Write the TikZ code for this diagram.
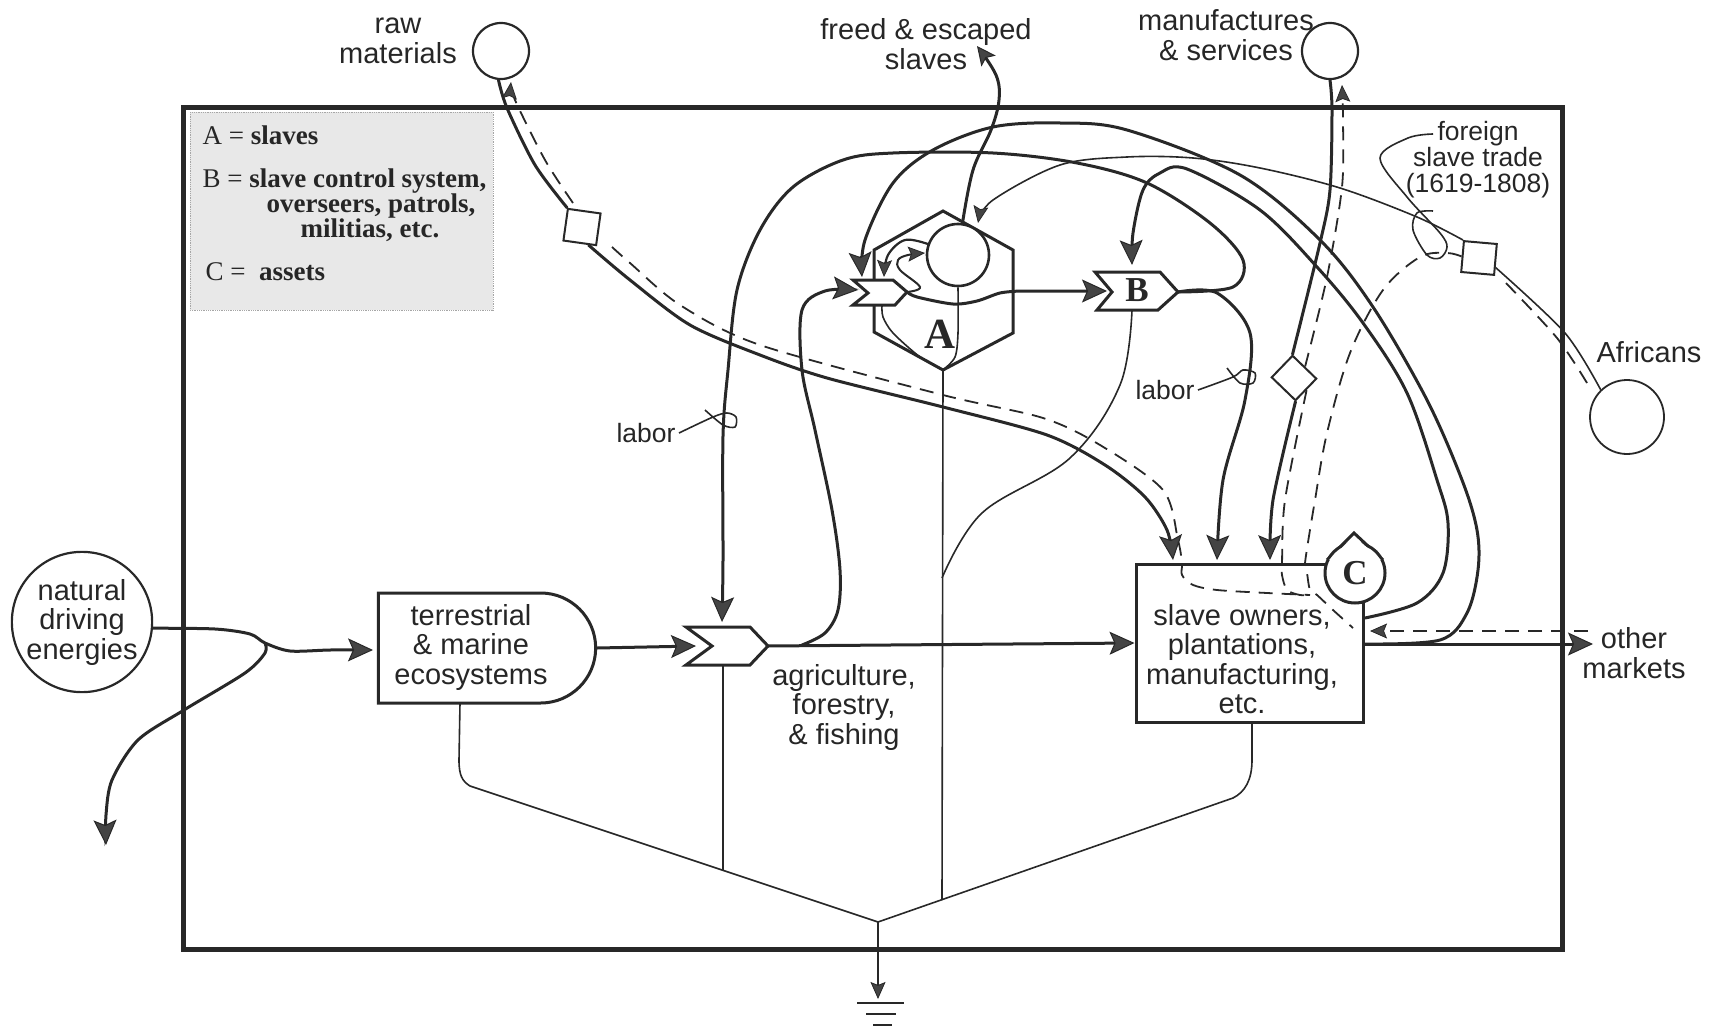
\documentclass[tikz,border=0pt]{standalone}
\usepackage{fontspec}
\setmainfont{Liberation Sans}
\newfontfamily\legendfont{Liberation Serif}
\definecolor{inkline}{RGB}{40, 40, 40}
\definecolor{tipgray}{RGB}{68, 68, 68}
\definecolor{legendgray}{RGB}{232, 232, 232}
\usetikzlibrary{shapes.misc, arrows.meta}
\begin{document}
\begin{tikzpicture}[
        x=1pt, y=-1pt,
        color=inkline,
        tag/.style={align=center, text=black!85, font=\fontsize{29}{29.5}\selectfont},
        small/.style={align=center, text=black!85, font=\fontsize{26.5}{26}\selectfont},
        legend/.style={anchor=base west, text=black!85, font=\legendfont\fontsize{27}{27}\selectfont},
        letter/.style={font=\legendfont\bfseries\fontsize{35}{35}\selectfont},
        pool/.style={circle, draw, line width=2.2pt, inner sep=0pt},
        gate/.style={rectangle, draw, fill=white, line width=2pt, inner sep=0pt},
        box/.style={draw, fill=white, line width=3pt, line join=miter},
        flow/.style={line width=3pt, line cap=round},
        thin line/.style={line width=1.6pt},
        dash line/.style={line width=1.8pt, dash pattern=on 14pt off 9pt},
        big tip/.style={-{Stealth[length=25pt, width=23pt, inset=5pt, line width=1pt, fill=tipgray]}},
        small tip/.style={-{Stealth[length=17pt, width=15pt, inset=3pt, line width=0.8pt, fill=tipgray]}}
    ]
        \useasboundingbox (0,0) rectangle (1711,1030);

        % Legend and system frame
        \fill[legendgray] (190,112) rectangle (493,310);
        \draw[gray!70, line width=0.8pt, densely dotted] (190,112) rectangle (493,310);
        \draw[line width=5pt] (183,108) rectangle (1562,949);
        \node[legend] (lega) at (199,145) {A = \textbf{slaves}};
        \node[legend] (legb) at (199,187) {B = \textbf{slave control system,}};
        \node[legend, anchor=base] (legb2) at (371,212) {\textbf{overseers, patrols,}};
        \node[legend, anchor=base] (legb3) at (370,237) {\textbf{militias, etc.}};
        \node[legend] (legc) at (202,280) {C = \textbf{ assets}};

        % Outside sources and sinks
        \node[pool, minimum size=56pt] (raw) at (501,51) {};
        \node[pool, minimum size=56pt] (manuf) at (1330,51) {};
        \node[pool, minimum size=74pt, line width=1.8pt] (africans) at (1627,417) {};
        \node[pool, minimum size=136pt, tag] (natural) at (82,622) {natural\\driving\\energies};
        \node[tag] (rawtxt) at (398,41) {raw\\materials};
        \node[tag] (freedtxt) at (926,44) {freed \& escaped\\slaves};
        \node[tag] (manuftxt) at (1226,35) {manufactures\\\& services};
        \node[tag] (africanstxt) at (1649,352) {Africans};
        \node[tag] (markets) at (1634,653) {other\\markets};
        \node[small] (tradetxt) at (1478,160) {foreign\\slave trade\\(1619-1808)};

        % Ecosystems and agriculture
        \node[rounded rectangle, rounded rectangle west arc=none, draw, line width=3pt, minimum width=224pt, minimum height=110pt] (terr) at (487,648) {};
        \node[tag] (terrtxt) at (471,647) {terrestrial\\\& marine\\ecosystems};
        \draw[box] (686,627) -- (750,627) -- (768,646) -- (750,665) -- (686,665) -- (712,646) -- cycle;
        \coordinate (agtip) at (768,646);
        \coordinate (agnotch) at (696,646);
        \coordinate (agtop) at (722,622);
        \coordinate (agbot) at (723,665);
        \coordinate (agfork) at (802,645);
        \node[tag] (agtxt) at (844,707) {agriculture,\\forestry,\\\& fishing};

        % Slaves hexagon with its pool and chevron
        \draw[box] (943,211) -- (1013,250) -- (1013,333) -- (943,370) -- (874,332) -- (874,250) -- cycle;
        \node[pool, minimum size=62pt, fill=white, line width=2.6pt] (slaves) at (958,255) {};
        \coordinate (hexbot) at (943,370);
        \draw[box] (853,280) -- (893,280) -- (907,292) -- (895,305) -- (853,305) -- (868,293) -- cycle;
        \coordinate (chtip) at (907,292);
        \coordinate (chbot) at (882,305);
        \coordinate (chnotch) at (858,290);
        \node[font=\legendfont\bfseries\fontsize{43}{43}\selectfont] (hexa) at (940,334) {A};

        % Control chevron
        \draw[box] (1095,272) -- (1160,272) -- (1178,292) -- (1158,310) -- (1097,310) -- (1112,292) -- cycle;
        \coordinate (btip) at (1178,292);
        \coordinate (bnotch) at (1107,291);
        \coordinate (bbot) at (1132,310);
        \node[letter] (btxt) at (1137,290) {B};

        % Owners with the assets tank
        \node[rectangle, draw, fill=white, line width=3pt, minimum width=227pt, minimum height=158pt] (owners) at (1249.5,643) {};
        \node[tag] (ownerstxt) at (1242,659) {slave owners,\\plantations,\\manufacturing,\\etc.};
        \fill[white] (1327,560) -- (1354,533) -- (1383,560) -- cycle;
        \draw[line width=3pt] (1327,560) -- (1354,533) -- (1383,560);
        \node[circle, draw, fill=white, line width=3pt, minimum size=60pt, inner sep=0pt, letter] (assets) at (1355,573) {C};
        \fill[white] (1329,560) -- (1354,536) -- (1381,560) -- cycle;
        \coordinate (ownright) at (1365,644);
        \coordinate (ownright2) at (1365,618);
        \coordinate (ownjoin) at (1310,595);
        \coordinate (ownbot) at (1252,722);

        % Price gates
        \node[gate, minimum width=33pt, minimum height=32pt, rotate=-8] (rawgate) at (582,227) {};
        \node[gate, minimum width=33pt, minimum height=31pt, rotate=-5] (tradegate) at (1479,258) {};
        \node[gate, minimum width=30pt, minimum height=33pt, rotate=46] (manufgate) at (1294,378) {};

        % Energy into the ecosystems
        \coordinate (natsplit) at (265,643);
        \coordinate (terrin) at (373,650);
        \coordinate (natout) at (106,845);
        \draw[flow, big tip] plot[smooth, tension=0.5] coordinates {(natural.-5) (215,629) (250,634) (natsplit) (290,651) (330,650) (terrin)};
        \draw[flow, big tip] plot[smooth, tension=0.5] coordinates {(natsplit) (265,653) (245,673) (184,710) (138,740) (112,780) (106,815) (natout)};
        \draw[flow, big tip] (terr.east) -- (agnotch);
        \draw[flow, big tip] (agtip) -- (owners.west);
        \draw[flow, big tip] plot[smooth, tension=0.55] coordinates {(agfork) (825,633) (838,610) (840,570) (832,510) (815,430) (802,370) (802,310) (825,291) (chnotch)};
        \draw[flow, big tip] plot[smooth, tension=0.5] coordinates {(chtip) (917,297) (953,304) (977,301) (1000,293) (1020,291)} -- (bnotch);

        % Labor and control loops
        \coordinate (bin) at (1132,265);
        \coordinate (chin) at (862,277);
        \coordinate (ownin) at (1217,560);
        \draw[flow, big tip] plot[smooth, tension=0.55] coordinates {(btip) (1233,287) (1243,260) (1210,223) (1147,183) (1077,163) (993,153) (893,153) (843,160) (793,187) (760,230) (737,290) (728,370) (723,436) (723,560) (agtop)};
        \draw[flow, big tip] plot[smooth, tension=0.55] coordinates {(ownright2) (1417,603) (1443,573) (1448,523) (1437,480) (1407,393) (1363,323) (1317,267) (1260,210) (1187,169) (1160,173) (1143,190) (1133,233) (bin)};
        \draw[flow, big tip] plot[smooth, tension=0.55] coordinates {(ownright) (1440,640) (1467,613) (1478,570) (1477,530) (1462,480) (1427,400) (1373,307) (1320,240) (1240,175) (1127,130) (1060,123) (993,127) (933,150) (893,183) (865,240) (chin)};
        \draw[flow, big tip] plot[smooth, tension=0.55] coordinates {(btip) (1217,293) (1250,333) (1245,400) (1223,480) (ownin)};

        % Small flows inside the hexagon
        \coordinate (chin2) at (884,277);
        \coordinate (slavesin) at (925,253);
        \draw[thin line, line width=2pt, small tip] plot[smooth, tension=0.6] coordinates {(chtip) (920,287) (900,270) (898,260) (908,255) (slavesin)};
        \draw[flow, line width=2.2pt, small tip] plot[smooth, tension=0.6] coordinates {(slaves.160) (905,240) (888,255) (chin2)};
        \draw[thin line] plot[smooth, tension=0.5] coordinates {(chbot) (883,317) (893,333) (920,357) (hexbot)};
        \draw[thin line] plot[smooth, tension=0.5] coordinates {(slaves.south) (958,333) (955,357) (hexbot)};

        % Freed slaves
        \coordinate (freedout) at (977,46);
        \draw[flow, -{Stealth[length=19pt, width=18pt, inset=4pt, line width=1pt, fill=tipgray]}] plot[smooth, tension=0.6] coordinates {(slaves.82) (973,170) (991,130) (999,100) (996,75) (freedout)};

        % Foreign slave trade
        \coordinate (slavestop) at (978,223);
        \draw[thin line, small tip] plot[smooth, tension=0.55] coordinates {(tradegate.north west) (1417,217) (1340,188) (1260,168) (1193,158) (1127,157) (1060,165) (993,200) (slavestop)};
        \draw[thin line] plot[smooth, tension=0.5] coordinates {(tradegate.-25) (1565,333) (africans.134)};
        \coordinate (afrdash) at (1587,383);
        \coordinate (tradedash) at (1505,282);
        \coordinate (ownerend) at (1353,628);
        \draw[dash line] plot[smooth, tension=0.5] coordinates {(afrdash) (1557,338) (tradedash)};
        \draw[dash line] plot[smooth, tension=0.55] coordinates {(tradegate.west) (1447,253) (1420,257) (1383,290) (1350,353) (1327,433) (1315,500) (1305,563) (1307,573) (1310,590) (1317,595) (1333,610) (ownerend)};

        % Raw materials
        \coordinate (rawdash) at (573,203);
        \coordinate (rawdash2) at (612,247);
        \coordinate (rawtip) at (511,82);
        \coordinate (ownin2) at (1173,560);
        \draw[flow] plot[smooth, tension=0.5] coordinates {(raw.-95) (507,108) (535,165) (rawgate.north west)};
        \draw[dash line, small tip] plot[smooth, tension=0.5] coordinates {(rawdash) (545,160) (515,100) (rawtip)};
        \draw[flow, big tip] plot[smooth, tension=0.5] coordinates {(rawgate.-62) (630,280) (690,325) (760,355) (827,378) (943,407) (1047,435) (1105,465) (1145,497) (1167,530) (ownin2)};
        \draw[dash line] plot[smooth, tension=0.5] coordinates {(rawdash2) (630,263) (680,305) (760,345) (943,395) (1043,418) (1100,445) (1163,490) (1178,540) (1182,563) (1182,575) (1193,585) (1217,590) (1267,593) (ownjoin)};

        % Manufactures and services
        \coordinate (manuftip) at (1342,85);
        \coordinate (ownin3) at (1270,560);
        \draw[flow] plot[smooth, tension=0.5] coordinates {(manuf.south) (1332,110) (1330,190) (1320,243) (manufgate.north east)};
        \draw[dash line, small tip] plot[smooth, tension=0.5] coordinates {(manufgate.east) (1327,277) (1342,187) (1343,120) (manuftip)};
        \draw[flow, big tip] plot[smooth, tension=0.5] coordinates {(manufgate.south west) (1273,500) (ownin3)};
        \draw[dash line] plot[smooth, tension=0.5] coordinates {(manufgate.south) (1285,500) (1282,563) (1282,575) (1287,590) (1300,595) (ownjoin)};

        % Other markets
        \coordinate (marktip) at (1593,644);
        \coordinate (markdash) at (1588,631);
        \coordinate (owndash) at (1370,631);
        \draw[flow, big tip] (ownright) -- (marktip);
        \draw[dash line, small tip, line width=2pt] (markdash) -- (owndash);

        % Labor tags
        \node[small] (labora) at (646,433) {labor};
        \node[small] (laborb) at (1165,390) {labor};
        \coordinate (laboraend) at (705,410);
        \coordinate (laborbend) at (1227,368);
        \coordinate (tradestart) at (1433,134);
        \coordinate (tradeend) at (1433,211);
        \draw[thin line] plot[smooth, tension=0.5] coordinates {(labora.east) (713,417) (727,413) (736,417) (735,427) (723,425) (laboraend)};
        \draw[thin line] plot[smooth, tension=0.5] coordinates {(laborb.east) (1233,377) (1243,370) (1255,373) (1253,383) (1240,383) (laborbend)};
        \draw[thin line] plot[smooth, tension=0.55] coordinates {(tradestart) (1408,138) (1380,158) (1407,197) (1440,233) (1447,247) (1440,258) (1427,255) (1413,230) (1417,213) (tradeend)};

        % Heat sink
        \coordinate (sink) at (878,922);
        \coordinate (legleft) at (723,870);
        \coordinate (legright) at (942,900);
        \coordinate (terrbot) at (460,703);
        \coordinate (ground) at (878,999);
        \coordinate (hexjoin) at (942,578);
        \draw[thin line] (terrbot) -- (459,760) .. controls (459,775) and (462,781) .. (470,786) -- (sink);
        \draw[thin line] (ownbot) -- (1252,760) .. controls (1252,780) and (1245,792) .. (1233,798) -- (sink);
        \draw[thin line] (agbot) -- (legleft);
        \draw[thin line] (hexbot) -- (legright);
        \draw[thin line] plot[smooth, tension=0.6] coordinates {(bbot) (1120,385) (1070,458) (982,513) (hexjoin)};
        \draw[thin line, line width=2pt, small tip] (sink) -- (ground);
        \foreach \yy/\xa/\xb in {1003/857/904, 1014/866/896, 1025/873/892} {
            \draw[line width=2pt] (\xa,\yy) -- (\xb,\yy);
        }
    \end{tikzpicture}
\end{document}
